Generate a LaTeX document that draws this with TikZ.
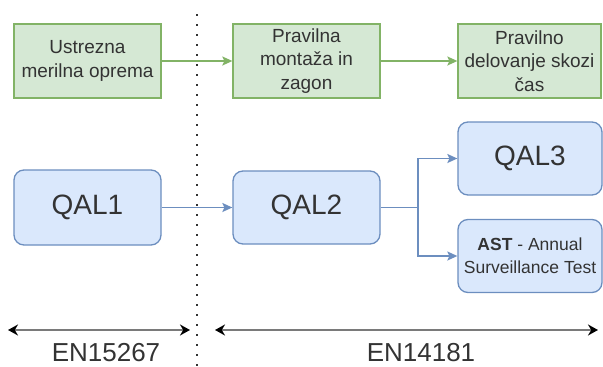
\documentclass[tikz,border=0pt]{standalone}
\usepackage{fontspec}
\setmainfont{Liberation Sans}
\usetikzlibrary{arrows.meta}
\definecolor{gfill}{HTML}{D5E8D4}
\definecolor{gline}{HTML}{82B366}
\definecolor{bfill}{HTML}{DAE8FC}
\definecolor{bline}{HTML}{6C8EBF}
\definecolor{txt}{HTML}{333333}
\definecolor{dimline}{HTML}{7A7A7A}
\begin{document}
\begin{tikzpicture}[x=1pt,y=-1pt,
  gbox/.style={draw=gline,fill=gfill,line width=1.3pt,inner sep=0pt,align=center,text=txt,
    font=\fontsize{19}{23.5}\selectfont},
  bbox/.style={draw=bline,fill=bfill,line width=1.3pt,rounded corners=10pt,inner sep=0pt,align=center,text=txt},
  garrow/.style={draw=gline,line width=1.5pt,-{Stealth[length=10pt,width=9pt,inset=2pt]}},
  barrow/.style={draw=bline,line width=1.5pt,-{Stealth[length=10pt,width=9pt,inset=2pt]}},
  dimarrow/.style={draw=dimline,line width=2.8pt,{Stealth[length=10pt,width=11pt,color=black]}-{Stealth[length=10pt,width=11pt,color=black]}},
  dimtext/.style={text=txt,font=\fontsize{26}{30}\selectfont,inner sep=0pt,anchor=base},
  sep/.style={draw=txt,line width=2.2pt,dash pattern=on 2.2pt off 7.8pt}
]
\useasboundingbox (0,0) rectangle (603,367);
% separator
\coordinate (st) at (197,14);
\coordinate (sb) at (197,367);
\draw[sep] (st) -- (sb);
% green boxes
\node[gbox,minimum width=147pt,minimum height=74pt] (g1) at (87.5,61) {Ustrezna\\merilna oprema};
\node[gbox,minimum width=147pt,minimum height=74pt] (g2) at (306.5,61) {Pravilna\\montaža in\\zagon};
\node[gbox,minimum width=143pt,minimum height=74pt] (g3) at (529.5,61) {Pravilno\\delovanje skozi\\čas};
\draw[garrow] (g1) -- (g2);
\draw[garrow] (g2) -- (g3);
% blue boxes
\node[bbox,minimum width=147pt,minimum height=75pt,font=\fontsize{28}{32}\selectfont] (q1) at (87.5,207.5) {QAL1};
\node[bbox,minimum width=147pt,minimum height=73pt,font=\fontsize{28}{32}\selectfont] (q2) at (306.5,207.5) {QAL2};
\node[bbox,minimum width=144pt,minimum height=73pt,font=\fontsize{28}{32}\selectfont] (q3) at (530,158.5) {QAL3};
\node[bbox,minimum width=144pt,minimum height=73pt,font=\fontsize{17.5}{23}\selectfont] (ast) at (530,256) {\textbf{AST} - Annual\\Surveillance Test};
\draw[barrow] (q1) -- (q2);
\coordinate (br) at (418,207.5);
\draw[bline,line width=1.5pt] (q2.east) -- (br);
\draw[barrow] (br) |- (q3.west);
\draw[barrow] (br) |- (ast.west);
% dimension arrows
\coordinate (a1) at (8,330);
\coordinate (a2) at (190,330);
\coordinate (b1) at (215,330);
\coordinate (b2) at (598,330);
\draw[dimarrow] (a1) -- (a2);
\draw[dimarrow] (b1) -- (b2);
\node[dimtext] (en1) at (106,361.5) {EN15267};
\node[dimtext] (en2) at (421,361.5) {EN14181};
\end{tikzpicture}
\end{document}
